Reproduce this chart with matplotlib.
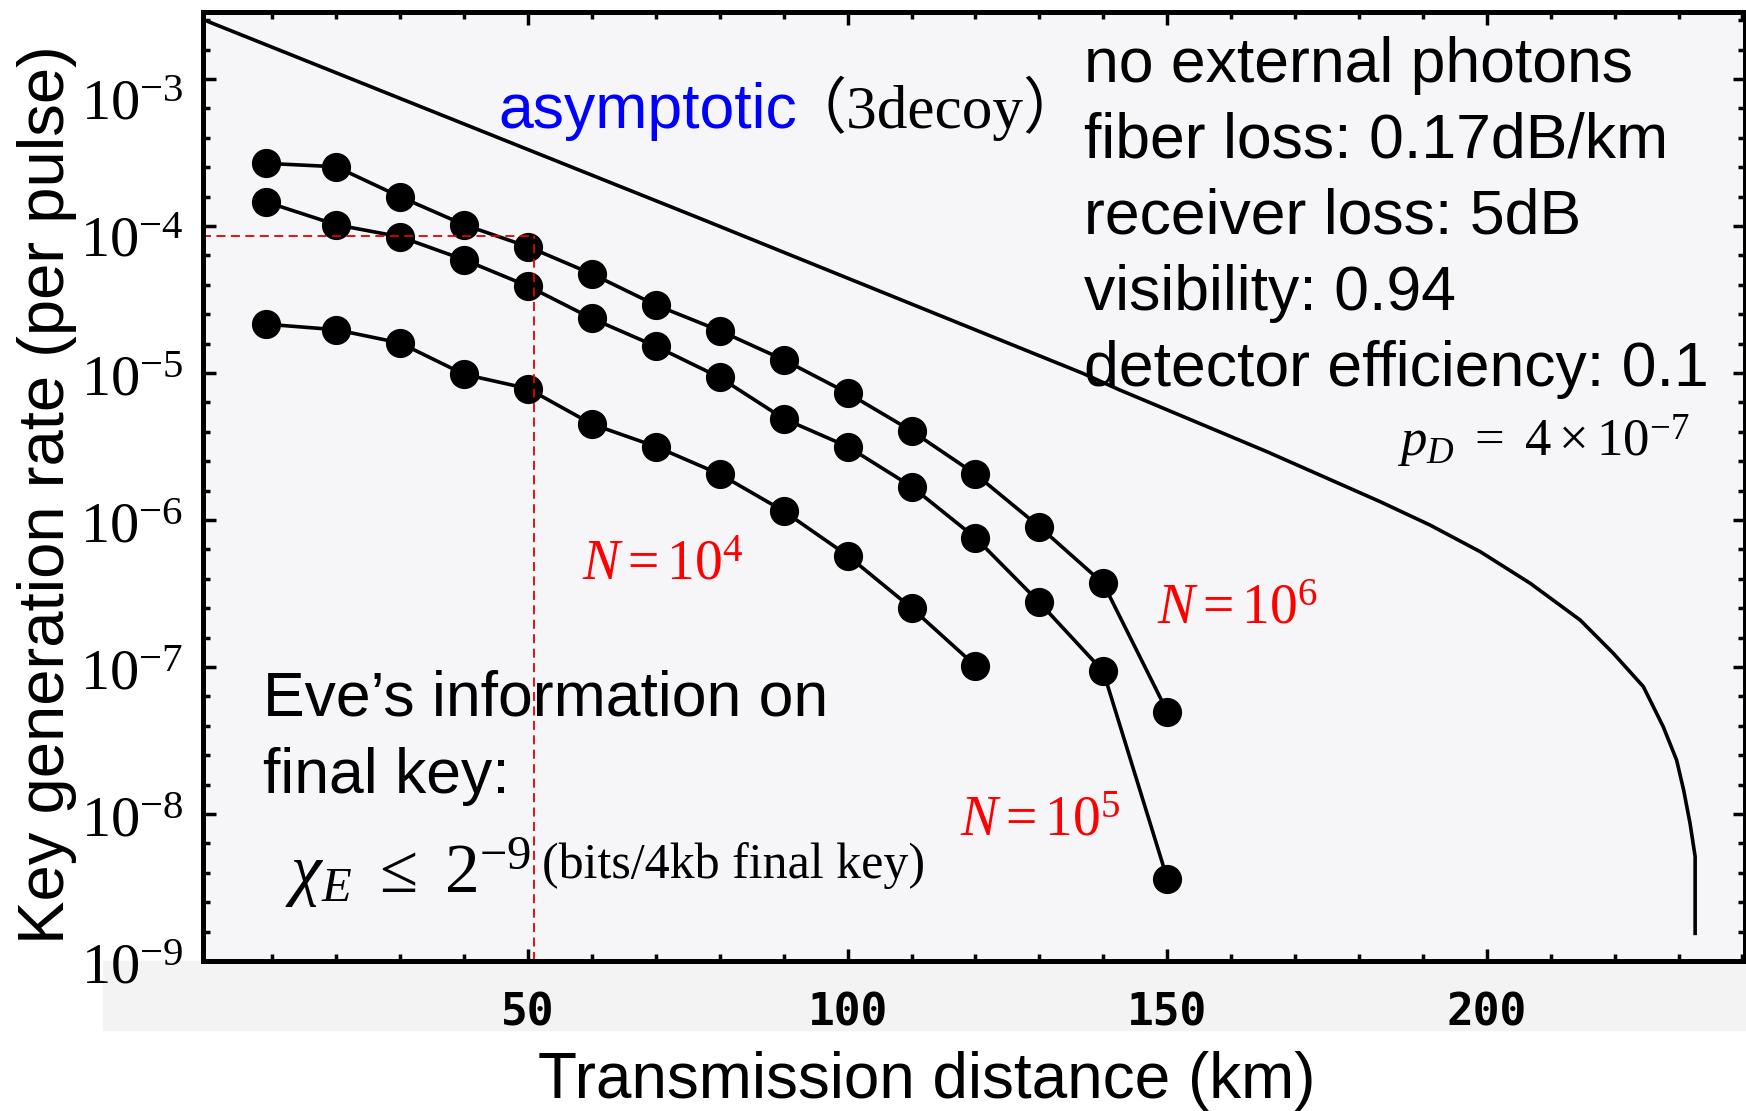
import matplotlib
matplotlib.use('Agg')
import matplotlib.pyplot as plt
from matplotlib.patches import Rectangle
from matplotlib.ticker import NullFormatter
from matplotlib.transforms import ScaledTranslation

plt.rcParams['mathtext.fontset'] = 'custom'
plt.rcParams['mathtext.rm'] = 'Liberation Serif'
plt.rcParams['mathtext.it'] = 'Liberation Serif:italic'
plt.rcParams['mathtext.bf'] = 'Liberation Serif:bold'

# distance (km) of the finite-size points
dist = [9, 20, 30, 40, 50, 60, 70, 80, 90, 100, 110, 120, 130, 140, 150]
rate_n6 = [2.67e-4, 2.53e-4, 1.58e-4, 1.02e-4, 7.23e-5, 4.72e-5, 2.90e-5, 1.94e-5,
           1.23e-5, 7.31e-6, 4.04e-6, 2.05e-6, 9.0e-7, 3.70e-7, 4.98e-8]
rate_n5 = [1.46e-4, 1.02e-4, 8.45e-5, 5.9e-5, 3.9e-5, 2.35e-5, 1.52e-5, 9.33e-6,
           4.89e-6, 3.16e-6, 1.69e-6, 7.57e-7, 2.75e-7, 9.33e-8, 3.64e-9]
rate_n4 = [2.15e-5, 1.97e-5, 1.60e-5, 9.8e-6, 7.83e-6, 4.49e-6, 3.16e-6, 2.05e-6,
           1.15e-6, 5.73e-7, 2.52e-7, 1.02e-7]

# asymptotic (3 decoy) curve
asym_dist = [0, 76.9, 136.8, 142.6, 165.6, 183.3, 191.1, 199.0, 206.8, 214.6,
             219.8, 224.5, 227.6, 229.7, 230.8, 231.8, 232.6, 232.6]
asym_rate = [2.455e-3, 1.127e-4, 9.95e-6, 7.66e-6, 2.917e-6, 1.334e-6, 9.25e-7, 6.08e-7,
             3.71e-7, 2.089e-7, 1.239e-7, 7.35e-8, 3.93e-8, 2.328e-8, 1.455e-8,
             8.65e-9, 5.13e-9, 1.542e-9]

# red guide lines
cut_dist = 51
cut_rate = 8.55e-5

ytick_vals = [1e-9, 1e-8, 1e-7, 1e-6, 1e-5, 1e-4, 1e-3]
ytick_labels = [r'$10^{-9}$', r'$10^{-8}$', r'$10^{-7}$', r'$10^{-6}$',
                r'$10^{-5}$', r'$10^{-4}$', r'$10^{-3}$']
xtick_vals = [50, 100, 150, 200]

W, H = 1746, 1111
fig = plt.figure(figsize=(W / 100, H / 100), dpi=100)
fig.patches.append(Rectangle((103 / W, 1 - 1030 / H), (W - 103) / W, 69 / H,
                             transform=fig.transFigure, color='#f3f3f3', zorder=-5))

ax = fig.add_axes([203 / W, 1 - 961 / H, (1745 - 203) / W, (961 - 12) / H])
ax.set_facecolor('#f6f6f8')

ax.plot(asym_dist, asym_rate, color='k', lw=2.6)
for r in (rate_n6, rate_n5, rate_n4):
    ax.plot(dist[:len(r)], r, '-o', color='k', lw=2.6, ms=20)

ax.hlines(cut_rate, -1, cut_dist, colors='#e00000', lw=1.3, linestyles=(0, (5, 3)))
ax.vlines(cut_dist, 1e-9, cut_rate, colors='#e00000', lw=1.3, linestyles=(0, (5, 3)))

ax.set_yscale('log')
ax.set_yticks(ytick_vals)
ax.set_yticklabels(ytick_labels)
ax.set_yticks([10.0 ** (k + j / 5) for k in range(-9, -3) for j in range(1, 5)]
              + [10.0 ** (-3 + j / 5) for j in range(1, 3)], minor=True)
ax.yaxis.set_minor_formatter(NullFormatter())
ax.set_xticks(xtick_vals)
ax.set_xticklabels([str(v) for v in xtick_vals], family='DejaVu Sans Mono',
                   weight='bold', fontsize=32)
ax.set_xticks(list(range(10, 241, 10)), minor=True)
ax.xaxis.set_minor_formatter(NullFormatter())
ax.set_xlim(-0.85, 240.4)
ax.set_ylim(1e-9, 10 ** -2.544)

ax.tick_params(which='both', direction='in', top=True, right=True, width=2.5, color='k')
ax.tick_params(which='major', length=9)
ax.tick_params(which='minor', length=5)
ax.tick_params(axis='y', which='major', labelsize=42, pad=14)
ax.tick_params(axis='x', which='major', pad=22)
for s in ax.spines.values():
    s.set_linewidth(3.6)

# the top two labels sit a little below their ticks in the original
ylabs = ax.get_yticklabels()
ylabs[-1].set_transform(ylabs[-1].get_transform() + ScaledTranslation(0, -0.18, fig.dpi_scale_trans))
ylabs[-2].set_transform(ylabs[-2].get_transform() + ScaledTranslation(0, -0.08, fig.dpi_scale_trans))


def put(x, y, s, **kw):
    fig.text(x / W, 1 - y / H, s, va='baseline', **kw)


sans = 'Liberation Sans'
serif = 'Liberation Serif'

fig.text(47 / W, 1 - 495 / H, 'Key generation rate (per pulse)', rotation=90,
         ha='center', va='center', family=sans, fontsize=47)
put(927, 1098, 'Transmission distance (km)', ha='center', family=sans, fontsize=46)

put(498, 128, 'asymptotic', color='#0000ff', family=sans, fontsize=45)
put(785, 128, '（3decoy）', family=[serif, 'Noto Sans CJK SC'], fontsize=44)

info = ['no external photons', 'fiber loss: 0.17dB/km', 'receiver loss: 5dB',
        'visibility: 0.94', 'detector efficiency: 0.1']
for i, line in enumerate(info):
    put(1084, 82 + 76 * i, line, family=sans, fontsize=45)
put(1397, 457, r'$p_D\ =\ 4\times10^{-7}$', fontsize=38)

put(582, 579, r'$N\mathrm{=10}^{4}$', color='#ff0000', fontsize=40)
put(960, 835, r'$N\mathrm{=10}^{5}$', color='#ff0000', fontsize=40)
put(1157, 624, r'$N\mathrm{=10}^{6}$', color='#ff0000', fontsize=40)

put(263, 715, 'Eve’s information on', family=sans, fontsize=45)
put(263, 793, 'final key:', family=sans, fontsize=45)
put(285, 893, r'$\chi_E\ \leq\ 2^{-9}$', fontsize=50)
put(542, 878, '(bits/4kb final key)', family=serif, fontsize=36)

fig.savefig('out.png', dpi=100)
